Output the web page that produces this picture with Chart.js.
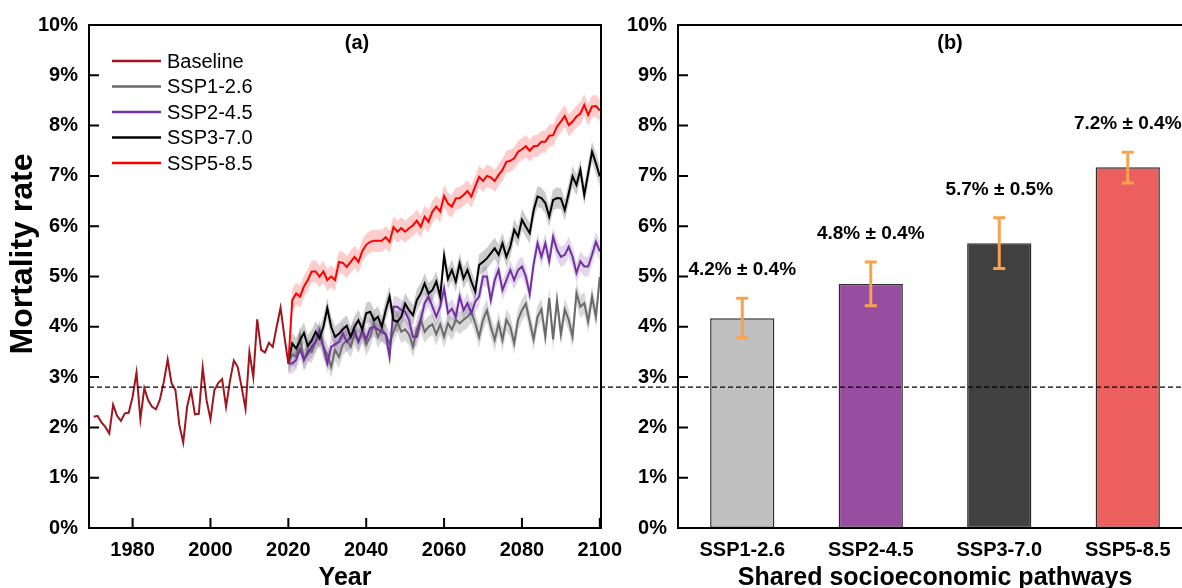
<!DOCTYPE html>
<html>
<head>
<meta charset="utf-8">
<script src="https://cdn.jsdelivr.net/npm/chart.js@4.4.1/dist/chart.umd.min.js"></script>
<style>
  html, body { margin: 0; padding: 0; background: #fff; overflow: hidden; }
  body { width: 1182px; height: 588px; position: relative; }
  canvas { position: absolute; top: 0; }
  #left { left: 0; }
  #right { left: 600px; }
</style>
</head>
<body>
<canvas id="left" width="640" height="600"></canvas>
<canvas id="right" width="610" height="600"></canvas>
<script>
// panel (a): yearly mortality rate (%)
const BASE_START = 1970;
const BASELINE = [
  2.21, 2.23, 2.10, 2.01, 1.88, 2.45, 2.23, 2.13, 2.28, 2.29,
  2.61, 3.09, 2.16, 2.78, 2.54, 2.41, 2.36, 2.55, 2.90, 3.35,
  2.88, 2.74, 2.05, 1.70, 2.41, 2.74, 2.26, 2.27, 3.19, 2.54,
  2.16, 2.74, 2.88, 2.96, 2.41, 2.92, 3.33, 3.20, 2.80, 2.37,
  3.50, 3.00, 4.15, 3.54, 3.49, 3.68, 3.60, 4.00, 4.38, 3.80,
  3.27
];

const SSP_START = 2020;
const SSP1 = [
  3.27, 3.45, 3.40, 3.80, 3.34, 3.55, 3.50, 3.70, 3.85, 3.60,
  3.45, 3.20, 3.54, 3.40, 3.65, 3.74, 3.60, 3.85, 3.70, 3.90,
  3.65, 3.80, 4.07, 3.80, 3.95, 3.85, 3.67, 3.90, 4.10, 3.90,
  3.95, 3.85, 3.60, 3.95, 4.15, 3.90, 4.00, 4.05, 3.85, 4.05,
  3.80, 4.07, 3.94, 4.14, 4.07, 4.14, 4.20, 4.30, 4.07, 3.80,
  4.14, 4.33, 4.00, 3.74, 4.07, 3.74, 4.14, 4.00, 3.67, 4.14,
  4.33, 4.46, 4.10, 3.75, 4.20, 4.35, 3.80, 4.57, 3.75, 4.53,
  3.85, 4.34, 4.14, 3.80, 4.67, 4.40, 4.47, 4.10, 4.60, 4.20,
  4.99
];
const SSP2 = [
  3.27, 3.27, 3.34, 3.55, 3.34, 3.47, 3.60, 3.70, 3.93, 3.60,
  3.27, 3.60, 3.65, 3.70, 3.87, 3.70, 3.80, 3.93, 3.70, 3.93,
  3.75, 3.97, 4.00, 3.95, 3.90, 3.85, 3.40, 4.40, 4.40, 4.33,
  4.30, 4.13, 3.80, 3.80, 4.13, 4.47, 4.60, 4.40, 4.20, 4.40,
  4.76, 4.27, 4.36, 4.20, 4.60, 4.33, 4.47, 4.27, 4.50, 4.60,
  5.00, 5.00, 4.53, 4.93, 5.13, 4.73, 4.93, 5.13, 4.93, 5.13,
  5.20, 5.00, 4.65, 5.25, 5.66, 5.39, 5.66, 5.30, 5.79, 5.53,
  5.39, 5.43, 5.59, 5.39, 5.07, 5.30, 5.20, 5.20, 5.43, 5.69,
  5.50
];
const SSP3 = [
  3.29, 3.67, 3.57, 3.73, 3.88, 3.62, 3.73, 3.90, 3.77, 4.00,
  4.37, 4.00, 3.80, 3.86, 3.95, 4.02, 3.80, 4.00, 4.13, 3.95,
  4.27, 4.30, 4.13, 4.20, 4.00, 4.33, 4.60, 4.13, 4.10, 4.20,
  4.46, 4.33, 4.23, 4.53, 4.66, 4.86, 4.66, 4.73, 4.90, 4.60,
  5.41, 4.95, 5.13, 4.90, 5.26, 4.96, 5.13, 4.90, 4.70, 5.23,
  5.29, 5.36, 5.46, 5.56, 5.43, 5.66, 5.39, 5.59, 5.93, 5.79,
  6.13, 5.99, 5.86, 6.32, 6.59, 6.56, 6.46, 6.19, 6.52, 6.56,
  6.55, 6.32, 6.65, 6.99, 6.82, 7.12, 6.62, 7.05, 7.48, 7.25,
  6.99
];
const SSP5 = [
  3.27, 4.53, 4.66, 4.60, 4.80, 4.93, 5.10, 5.10, 5.00, 5.10,
  4.93, 5.00, 4.93, 5.29, 5.27, 5.19, 5.29, 5.39, 5.29, 5.51,
  5.63, 5.69, 5.71, 5.71, 5.71, 5.78, 5.69, 5.98, 5.89, 5.96,
  5.89, 5.96, 6.02, 6.11, 5.99, 6.19, 6.09, 6.29, 6.39, 6.29,
  6.60, 6.45, 6.39, 6.55, 6.56, 6.62, 6.70, 6.59, 6.79, 6.98,
  6.90, 7.00, 6.97, 6.90, 7.02, 7.12, 7.28, 7.30, 7.35, 7.48,
  7.53, 7.59, 7.50, 7.59, 7.60, 7.68, 7.68, 7.80, 7.81, 7.98,
  8.08, 8.19, 8.01, 8.08, 8.18, 8.24, 8.41, 8.21, 8.38, 8.39,
  8.30
];
// half-width of the shaded uncertainty band, per scenario
const SSP_NAMES = ["SSP1-2.6", "SSP2-4.5", "SSP3-7.0", "SSP5-8.5"];
const BAND_HALF = [0.22, 0.2, 0.21, 0.22];

const YEAR_TICKS = [1980, 2000, 2020, 2040, 2060, 2080, 2100];
const THRESHOLD = 2.8;

// panel (b): mean mortality per pathway
const BAR_VALUES = [4.17, 4.85, 5.66, 7.17];
const BAR_ERR_LOW = [3.78, 4.42, 5.16, 6.86];
const BAR_ERR_HIGH = [4.57, 5.29, 6.17, 7.47];
const BAR_TEXT = ["4.2% \u00b1 0.4%", "4.8% \u00b1 0.4%", "5.7% \u00b1 0.5%", "7.2% \u00b1 0.4%"];

const FONT = "'Liberation Sans', Arial, sans-serif";
const LINE_COLORS = ["#6a6a6a", "#7030a0", "#000000", "#ff0000"];
const BAND_COLORS = ["rgba(90,90,90,0.24)", "rgba(112,48,160,0.2)", "rgba(0,0,0,0.2)", "rgba(255,0,0,0.2)"];
const BAR_COLORS = ["#c0c0c0", "#984ea0", "#404040", "#eb5f5f"];
const ERR_COLOR = "#f9a24e";

const pts = (start, arr, off) => arr.map((v, i) => ({ x: start + i, y: v + (off || 0) }));

// box, inward ticks, dashed threshold, panel letter, rotated y title
const framePlugin = {
  id: "frame",
  afterDatasetsDraw(chart, args, o) {
    const { ctx, chartArea: a, scales } = chart;
    const y = scales.y.getPixelForValue(THRESHOLD);
    ctx.save();
    ctx.strokeStyle = "#000";
    ctx.lineWidth = 1.3;
    ctx.setLineDash([5, 3]);
    ctx.beginPath();
    ctx.moveTo(o.dashFrom != null ? o.dashFrom : a.left, y);
    ctx.lineTo(o.dashTo != null ? o.dashTo : a.right, y);
    ctx.stroke();
    ctx.restore();
  },
  afterDraw(chart, args, o) {
    const { ctx, chartArea: a, scales } = chart;
    ctx.save();
    ctx.strokeStyle = "#000";
    ctx.lineWidth = 2;
    ctx.strokeRect(a.left, a.top, a.right - a.left, a.bottom - a.top);
    ctx.beginPath();
    scales.y.ticks.forEach(t => {
      const py = scales.y.getPixelForValue(t.value);
      ctx.moveTo(a.left, py); ctx.lineTo(a.left + 10, py);
    });
    if (o.xTicks) {
      scales.x.ticks.forEach(t => {
        const px = scales.x.getPixelForValue(t.value);
        ctx.moveTo(px, a.bottom); ctx.lineTo(px, a.bottom - 10);
      });
    }
    ctx.stroke();
    ctx.fillStyle = "#000";
    ctx.font = "bold 20px " + FONT;
    ctx.textAlign = "center";
    ctx.textBaseline = "middle";
    ctx.fillText(o.letter, a.left + o.letterX, a.top + 18);
    if (o.yTitle) {
      ctx.translate(23, 254);
      ctx.rotate(-Math.PI / 2);
      ctx.font = "bold 32px " + FONT;
      ctx.fillText(o.yTitle, 0, 0);
    }
    ctx.restore();
  }
};

const legendPlugin = {
  id: "insideLegend",
  afterDraw(chart) {
    const { ctx, chartArea: a } = chart;
    const items = chart.data.datasets.filter(d => d.legendText);
    ctx.save();
    ctx.font = "20px " + FONT;
    ctx.textBaseline = "middle";
    ctx.textAlign = "left";
    items.forEach((d, i) => {
      const y = a.top + 36 + i * 25.5;
      ctx.strokeStyle = d.borderColor;
      ctx.lineWidth = 2.5;
      ctx.beginPath();
      ctx.moveTo(a.left + 23, y); ctx.lineTo(a.left + 72, y);
      ctx.stroke();
      ctx.fillStyle = "#000";
      ctx.fillText(d.legendText, a.left + 78, y + 1);
    });
    ctx.restore();
  }
};

const errorPlugin = {
  id: "errorBars",
  afterDatasetsDraw(chart) {
    const { ctx, scales } = chart;
    const meta = chart.getDatasetMeta(0);
    ctx.save();
    meta.data.forEach((bar, i) => {
      const yLo = scales.y.getPixelForValue(BAR_ERR_LOW[i]);
      const yHi = scales.y.getPixelForValue(BAR_ERR_HIGH[i]);
      ctx.strokeStyle = ERR_COLOR;
      ctx.lineWidth = 3;
      ctx.beginPath();
      ctx.moveTo(bar.x, yLo); ctx.lineTo(bar.x, yHi);
      ctx.moveTo(bar.x - 6, yLo); ctx.lineTo(bar.x + 6, yLo);
      ctx.moveTo(bar.x - 6, yHi); ctx.lineTo(bar.x + 6, yHi);
      ctx.stroke();
      ctx.fillStyle = "#000";
      ctx.font = "bold 19px " + FONT;
      ctx.textAlign = "center";
      ctx.textBaseline = "middle";
      ctx.fillText(BAR_TEXT[i], bar.x, yHi - 28);
    });
    ctx.restore();
  }
};

const yAxis = width => ({
  min: 0, max: 10,
  afterFit: s => { s.width = width; },
  grid: { display: false, drawTicks: false },
  border: { display: false },
  ticks: {
    stepSize: 1, padding: 11, color: "#000",
    font: { family: FONT, size: 20, weight: "bold" },
    callback: v => v + "%"
  }
});

const xTitle = text => ({
  display: true, text: text, color: "#000",
  font: { family: FONT, size: 25, weight: "bold" },
  padding: { top: 0, bottom: 7 }
});

// left: time series
const lineSets = [
  { legendText: "Baseline", data: pts(BASE_START, BASELINE), borderColor: "#a0151e", order: 0 }
];
const sspData = [SSP1, SSP2, SSP3, SSP5];
sspData.forEach((arr, k) => {
  lineSets.push({ legendText: SSP_NAMES[k], data: pts(SSP_START, arr), borderColor: LINE_COLORS[k], order: 4 - k });
});
lineSets.forEach(d => Object.assign(d, { borderWidth: 2, pointRadius: 0, fill: false, tension: 0 }));

const bandSets = [];
sspData.forEach((arr, k) => {
  bandSets.push({ data: pts(SSP_START, arr, -BAND_HALF[k]), borderWidth: 0, pointRadius: 0, fill: false, order: 10 });
  bandSets.push({ data: pts(SSP_START, arr, BAND_HALF[k]), borderWidth: 0, pointRadius: 0, fill: "-1", backgroundColor: BAND_COLORS[k], order: 10 });
});

new Chart(document.getElementById("left"), {
  type: "line",
  data: { datasets: lineSets.concat(bandSets) },
  options: {
    responsive: false, animation: false, devicePixelRatio: 1,
    layout: { padding: { left: 0, top: 25, right: 39, bottom: 0 } },
    plugins: {
      legend: { display: false }, tooltip: { enabled: false },
      frame: { xTicks: true, letter: "(a)", letterX: 268, yTitle: "Mortality rate" }
    },
    scales: {
      x: {
        type: "linear", min: 1968.8, max: 2100.3,
        afterFit: s => { s.height = 72; },
        afterBuildTicks: s => { s.ticks = YEAR_TICKS.map(v => ({ value: v })); },
        grid: { display: false, drawTicks: false },
        border: { display: false },
        ticks: { padding: 10, color: "#000", maxRotation: 0, font: { family: FONT, size: 20, weight: "bold" }, callback: v => String(v) },
        title: xTitle("Year")
      },
      y: yAxis(89)
    }
  },
  plugins: [framePlugin, legendPlugin]
});

// right: bars
new Chart(document.getElementById("right"), {
  type: "bar",
  data: {
    labels: SSP_NAMES,
    datasets: [{
      data: BAR_VALUES,
      backgroundColor: BAR_COLORS,
      borderColor: "#2e2e2e",
      borderWidth: 1.5,
      borderSkipped: false,
      barPercentage: 0.5,
      categoryPercentage: 1.0
    }]
  },
  options: {
    responsive: false, animation: false, devicePixelRatio: 1,
    layout: { padding: { left: 0, top: 25, right: 18, bottom: 0 } },
    plugins: {
      legend: { display: false }, tooltip: { enabled: false },
      frame: { xTicks: false, letter: "(b)", letterX: 272, dashFrom: 0, dashTo: 610 }
    },
    scales: {
      x: {
        afterFit: s => { s.height = 72; },
        grid: { display: false, drawTicks: false },
        border: { display: false },
        ticks: { padding: 10, color: "#000", font: { family: FONT, size: 20, weight: "bold" } },
        title: xTitle("Shared socioeconomic pathways")
      },
      y: yAxis(78)
    }
  },
  plugins: [framePlugin, errorPlugin]
});
</script>
</body>
</html>
